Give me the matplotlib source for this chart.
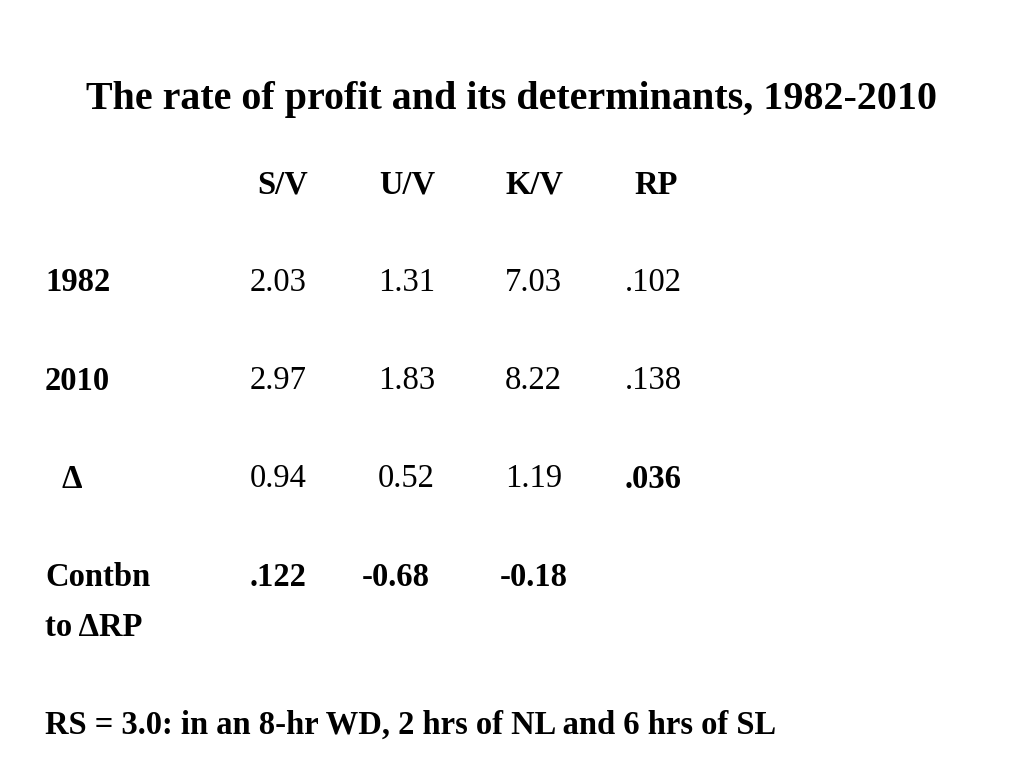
import matplotlib.pyplot as plt

title = "The rate of profit and its determinants, 1982-2010"
headers = ["S/V", "U/V", "K/V", "RP"]
row_labels = ["1982", "2010", "\u0394"]
row_values = [
    ["2.03", "1.31", "7.03", ".102"],
    ["2.97", "1.83", "8.22", ".138"],
    ["0.94", "0.52", "1.19", ".036"],
]
contbn = [".122", "-0.68", "-0.18"]
footer = "RS = 3.0: in an 8-hr WD, 2 hrs of NL and 6 hrs of SL"

W, H = 1024, 768
fig = plt.figure(figsize=(W / 100, H / 100), dpi=100)
fig.patch.set_facecolor("white")
font = "Liberation Serif"
BODY = 23.5


def put(x, y, s, bold=False, size=BODY, ha="left"):
    fig.text(x / W, 1 - (y + 3) / H, s, fontsize=size, family=font,
             weight="bold" if bold else "normal", ha=ha, va="center")


put(512, 97, title, bold=True, size=28.8, ha="center")

header_x = [283, 407, 535, 656]
for x, h in zip(header_x, headers):
    put(x, 182, h, bold=True, ha="center")

col_x = [250, 378, 505, 625]
row_y = [280, 378, 476]
for y, lab, vals in zip(row_y, row_labels, row_values):
    put(45 if lab != "\u0394" else 62, y, lab, bold=True)
    for i, (x, v) in enumerate(zip(col_x, vals)):
        put(x, y, v, bold=(lab == "\u0394" and i == 3))

put(45, 575, "Contbn", bold=True)
put(45, 624, "to \u0394RP", bold=True)
for x, v in zip([250, 362, 500], contbn):
    put(x, 575, v, bold=True)

put(45, 722, footer, bold=True)

fig.savefig("out.png", dpi=100)
